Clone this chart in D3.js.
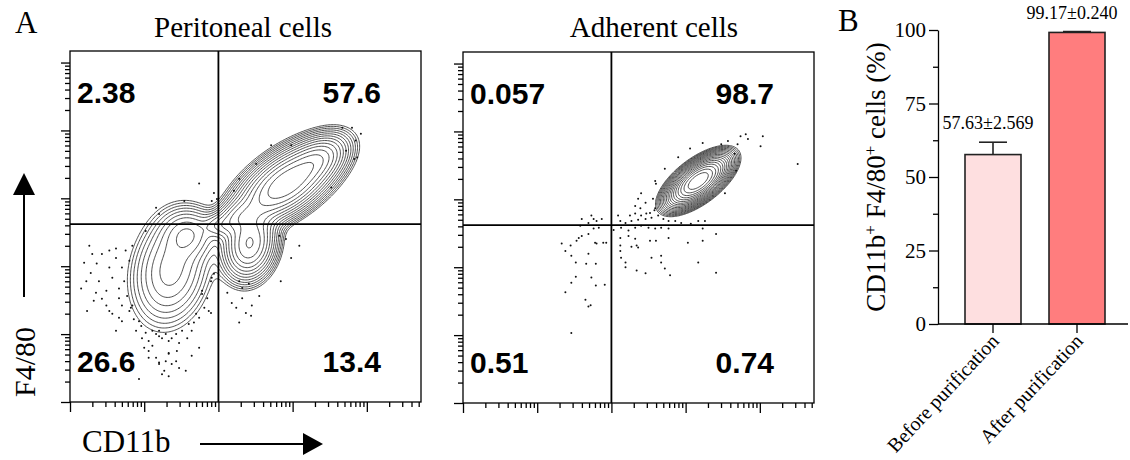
<!DOCTYPE html>
<html>
<head>
<meta charset="utf-8">
<script src="https://cdn.jsdelivr.net/npm/d3@7/dist/d3.min.js"></script>
<style>
  body { margin: 0; background: #fff; }
  svg text { font-family: "Liberation Serif", "Times New Roman", serif; fill: #000; }
  .quad { font-family: "Liberation Sans", Arial, sans-serif; font-weight: bold; }
</style>
</head>
<body>
<svg id="fig" width="1130" height="460"></svg>
<script>
// ---- flow cytometry panels (axes in decades) ----
const gateX = 2.0, gateY = 2.62;
const majorTicks = [0, 1, 2, 3, 4, 5];
// populations: [cx, cy, sdMajor, sdMinor, angleDeg, weight]
const periPops = [
  [2.92, 3.22, 0.39, 0.19, 39, 0.524],
  [3.35, 3.58, 0.22, 0.14, 39, 0.06],
  [2.42, 2.33, 0.26, 0.17, 80, 0.177],
  [2.25, 2.72, 0.18, 0.12, 35, 0.03],
  [1.60, 2.48, 0.20, 0.20, 0, 0.036],
  [1.36, 1.95, 0.44, 0.27, 80, 0.119],
  [2.00, 2.60, 0.12, 0.10, 0, 0.008]
];
const adhPops = [
  [3.17, 3.27, 0.25, 0.115, 41, 1.0]
];
const periDots = [
  [0.26,2.30],[0.19,2.05],[0.15,1.67],[0.23,1.34],[0.32,1.49],[0.43,2.18],[0.53,2.23],[0.62,2.12],
  [0.70,1.98],[0.57,1.83],[0.49,1.64],[0.39,1.78],[0.66,1.53],[0.57,1.30],[0.70,1.19],[0.80,1.34],
  [0.89,1.05],[0.97,0.94],[1.06,0.90],[1.16,1.00],[1.24,0.94],[1.33,0.90],[1.43,1.00],[1.51,1.05],
  [1.60,1.15],[1.70,1.30],[1.87,1.34],[1.91,1.83],[1.78,1.64],[1.06,0.75],[1.16,0.65],[1.29,0.60],
  [1.37,0.56],[1.47,0.50],[1.24,0.41],[0.93,0.34],[1.56,0.46],[1.00,0.80],[1.11,0.83],[0.84,2.30],
  [0.75,2.23],[0.80,2.08],[0.28,1.90],[0.35,1.61],[0.49,1.42],[0.77,1.56],[0.62,1.05],[1.74,0.80],
  [1.20,1.05],[0.93,1.19],[0.84,1.42],[1.44,0.75],[1.64,0.68],[1.33,0.72],[1.20,0.58],
  [1.02,1.02],[1.11,1.05],[1.20,0.97],[1.29,1.00],[1.37,0.94],[1.47,0.87],[1.58,0.94],[1.64,1.05],
  [1.67,1.17],[1.74,1.24],[1.81,1.39],[1.85,1.53],[0.96,1.12],[0.86,1.22],[0.82,1.39],[0.70,1.42],
  [0.66,1.67],[0.73,1.78],[0.53,1.98],[0.62,2.26],[0.36,2.04],[0.30,2.18],[0.22,1.78],[0.43,1.52],
  [0.53,1.34],[0.66,1.24],[1.06,0.65],[1.33,0.71],[1.43,0.60],[1.20,0.56],[1.27,0.46],[1.33,0.38],
  [2.82,2.45],[2.91,2.40],[3.09,2.30],[2.98,2.12],[2.84,1.78],[2.28,1.78],[2.32,1.68],[2.41,1.74],
  [2.18,1.46],[2.24,1.39],[2.45,1.42],[2.37,1.31],[2.44,1.27],[2.32,1.53],[1.90,1.31],[1.90,1.78],
  [1.94,1.89],[1.78,1.59],[2.28,1.17],[2.12,1.61],[2.55,1.56],
  [2.71,3.78],[2.98,3.78],[3.67,4.04],[3.80,4.04],[3.85,3.85],[3.83,3.58],[3.72,3.70],[3.52,3.16],
  [2.51,3.51],[2.28,3.29],[2.21,3.11],[1.94,3.08],[1.98,2.99],[1.91,2.96],[3.87,3.60],[3.92,3.95],
  [1.74,3.22],[1.16,2.86],[1.02,2.52],[1.20,2.77],[1.54,2.96]
];
const adhDots = [
  [4.51,3.52],[4.04,3.93],[4.01,3.78],[3.81,3.96],[3.74,3.93],[3.84,3.89],[3.70,3.81],[3.66,3.67],
  [3.57,3.86],[3.48,3.81],[3.68,3.42],[3.53,3.09],[3.23,3.83],[3.06,3.75],[2.90,3.62],[2.72,3.45],
  [2.59,3.27],[2.60,3.23],[2.40,3.09],[2.36,3.01],[2.46,2.95],[2.32,2.90],[2.39,2.87],[2.56,3.01],
  [2.59,2.87],[2.58,2.84],[2.52,2.80],[2.47,2.79],[2.40,2.76],[2.32,2.79],[2.25,2.76],[2.27,2.68],
  [2.36,2.70],[2.46,2.71],[2.54,2.73],[2.63,2.76],[2.70,2.71],[2.77,2.68],[2.86,2.68],[2.94,2.65],
  [3.07,2.64],[3.17,2.68],[3.26,2.68],[2.19,2.65],[2.12,2.68],[2.09,2.76],[2.40,2.61],[2.50,2.58],
  [2.59,2.57],[2.67,2.58],[2.77,2.57],[2.32,2.58],[2.23,2.54],[2.13,2.58],[2.03,2.55],[1.87,2.71],
  [1.80,2.68],[1.73,2.76],[1.69,2.65],[1.83,2.58],[1.76,2.57],[1.58,2.61],[1.56,2.43],[1.53,2.39],
  [1.60,2.46],[1.69,2.49],[1.78,2.36],[1.80,2.35],[1.89,2.36],[1.93,2.36],[2.12,2.43],[2.23,2.46],
  [2.32,2.42],[2.34,2.32],[2.27,2.30],[2.36,2.29],[2.52,2.39],[2.60,2.39],[2.77,2.43],[3.03,2.36],
  [3.23,2.57],[3.23,2.39],[3.41,2.49],[2.12,2.32],[2.12,2.24],[2.13,2.14],[2.19,2.07],[2.19,2.00],
  [2.34,1.95],[2.46,1.91],[2.54,2.14],[2.67,2.17],[2.67,2.07],[2.72,1.98],[2.79,1.88],[3.17,2.07],
  [3.41,1.92],[1.33,2.35],[1.38,2.24],[1.45,2.32],[1.46,2.17],[1.52,2.07],[1.46,1.77],[1.38,1.63],
  [1.52,1.86],[1.66,2.05],[1.69,2.20],[1.79,2.05],[1.73,1.85],[1.79,1.73],[1.91,1.74],[1.65,1.52],
  [1.69,1.42],[1.72,1.44],[1.46,1.03],[1.60,2.71],[1.76,2.71]
];
// quadrant percentages: upper-left, upper-right, lower-left, lower-right
const periQuad = ["2.38", "57.6", "26.6", "13.4"];
const adhQuad = ["0.057", "98.7", "0.51", "0.74"];

// ---- bar chart ----
const groups = ["Before purification", "After purification"];
const means = [57.63, 99.17];
const errs = [4.2, 0.3];
const meanLabels = ["57.63±2.569", "99.17±0.240"];
const barColors = ["#fedfe0", "#ff7d7e"];
const yTicksB = [0, 25, 50, 75, 100];
const yMinorB = [12.5, 37.5, 62.5, 87.5];

const svg = d3.select("#fig");

function flowPanel(o) {
  const g = svg.append("g");
  const x = d3.scaleLinear().domain([0, 4.73]).range([o.x0, o.x0 + 351]);
  const y = d3.scaleLinear().domain([0, 5.17]).range([o.y0 + 351, o.y0]);

  g.append("clipPath").attr("id", o.id + "clip")
    .append("rect").attr("x", o.x0).attr("y", o.y0).attr("width", 351).attr("height", 351);

  // density grid from the populations
  const step = 0.02, nx = Math.ceil(4.73 / step), ny = Math.ceil(5.17 / step);
  const vals = new Float64Array(nx * ny);
  for (let j = 0; j < ny; j++) {
    for (let i = 0; i < nx; i++) {
      const u = (i + 0.5) * step, v = (j + 0.5) * step;
      let s = 0;
      o.pops.forEach(p => {
        const a = p[4] * Math.PI / 180;
        const dx = u - p[0], dy = v - p[1];
        const pp = dx * Math.cos(a) + dy * Math.sin(a);
        const qq = -dx * Math.sin(a) + dy * Math.cos(a);
        s += p[5] / (p[2] * p[3]) * Math.exp(-0.5 * (pp * pp / (p[2] * p[2]) + qq * qq / (p[3] * p[3])));
      });
      vals[j * nx + i] = s;
    }
  }
  const mx = d3.max(vals);
  const levels = d3.range(1, o.nLevels + 1).map(k => mx * Math.pow(o.ratio, k));
  const contours = d3.contours().size([nx, ny]).thresholds(levels)(vals);
  const proj = d3.geoTransform({
    point: function(px, py) { this.stream.point(x(px * step), y(py * step)); }
  });
  const cg = g.append("g").attr("clip-path", "url(#" + o.id + "clip)");
  cg.selectAll("path.c").data(contours).join("path")
    .attr("class", "c")
    .attr("d", d3.geoPath(proj))
    .attr("fill", "none")
    .attr("stroke", "#222")
    .attr("stroke-width", 0.8);

  cg.selectAll("circle").data(o.dots).join("circle")
    .attr("cx", d => x(d[0]))
    .attr("cy", d => y(d[1]))
    .attr("r", 1)
    .attr("fill", "#111");

  // frame + gates
  g.append("rect").attr("x", o.x0).attr("y", o.y0).attr("width", 351).attr("height", 351)
    .attr("fill", "none").attr("stroke", "#000").attr("stroke-width", 1.3);
  g.append("line").attr("x1", x(gateX)).attr("x2", x(gateX)).attr("y1", o.y0).attr("y2", o.y0 + 351)
    .attr("stroke", "#000").attr("stroke-width", 1.8);
  g.append("line").attr("x1", o.x0).attr("x2", o.x0 + 351).attr("y1", y(gateY)).attr("y2", y(gateY))
    .attr("stroke", "#000").attr("stroke-width", 1.8);

  // log-style ticks
  const minor = [];
  majorTicks.forEach(d => d3.range(2, 10).forEach(k => minor.push(d + Math.log10(k))));
  const yAxG = g.append("g").attr("transform", "translate(" + o.x0 + ",0)");
  yAxG.call(d3.axisLeft(y).tickValues(majorTicks.filter(d => d <= 5.17)).tickSize(9).tickFormat(""));
  yAxG.append("g").call(d3.axisLeft(y).tickValues(minor.filter(d => d < 5.17)).tickSize(5).tickFormat(""));
  const xAxG = g.append("g").attr("transform", "translate(0," + (o.y0 + 351) + ")");
  xAxG.call(d3.axisBottom(x).tickValues(majorTicks.filter(d => d <= 4.73)).tickSize(10).tickFormat(""));
  xAxG.append("g").call(d3.axisBottom(x).tickValues(minor.filter(d => d < 4.73)).tickSize(5).tickFormat(""));
  g.selectAll(".domain").remove();
  g.selectAll(".tick line").attr("stroke", "#000").attr("stroke-width", 1.3);

  // quadrant numbers
  const q = g.append("g").attr("class", "quad").attr("font-size", 30);
  q.append("text").attr("class", "quad").attr("x", o.x0 + 7).attr("y", o.y0 + 52).text(o.quads[0]);
  q.append("text").attr("class", "quad").attr("x", o.x0 + 311).attr("y", o.y0 + 52)
    .attr("text-anchor", "end").text(o.quads[1]);
  q.append("text").attr("class", "quad").attr("x", o.x0 + 7).attr("y", o.y0 + 321).text(o.quads[2]);
  q.append("text").attr("class", "quad").attr("x", o.x0 + 311).attr("y", o.y0 + 321)
    .attr("text-anchor", "end").text(o.quads[3]);

  svg.append("text").attr("x", o.titleX).attr("y", 37).attr("text-anchor", "middle")
    .attr("font-size", 29).text(o.title);
}

flowPanel({ id: "p1", x0: 70, y0: 51, pops: periPops, dots: periDots, quads: periQuad,
  nLevels: 14, ratio: 0.74, title: "Peritoneal cells", titleX: 243 });
flowPanel({ id: "p2", x0: 463, y0: 52, pops: adhPops, dots: adhDots, quads: adhQuad,
  nLevels: 18, ratio: 0.8, title: "Adherent cells", titleX: 654 });

// axis names with arrows
svg.append("text").attr("x", 15).attr("y", 33).attr("font-size", 31).text("A");
svg.append("text").attr("transform", "translate(35,362) rotate(-90)")
  .attr("text-anchor", "middle").attr("font-size", 30).text("F4/80");
svg.append("line").attr("x1", 24).attr("x2", 24).attr("y1", 297).attr("y2", 190)
  .attr("stroke", "#000").attr("stroke-width", 2);
svg.append("path").attr("d", "M24,173L35,195L13,195Z").attr("fill", "#000");
svg.append("text").attr("x", 82).attr("y", 452).attr("font-size", 31).text("CD11b");
svg.append("line").attr("x1", 200).attr("x2", 306).attr("y1", 444).attr("y2", 444)
  .attr("stroke", "#000").attr("stroke-width", 2);
svg.append("path").attr("d", "M323,444L303,433L303,455Z").attr("fill", "#000");

// ---- panel B ----
const yB = d3.scaleLinear().domain([0, 100]).range([324, 30]);
const xB = d3.scaleBand().domain(groups).range([951, 1119]).paddingInner(1 / 3).paddingOuter(1 / 6);
const gB = svg.append("g");

gB.selectAll("rect.bar").data(groups).join("rect")
  .attr("class", "bar")
  .attr("x", d => xB(d))
  .attr("y", (d, i) => yB(means[i]))
  .attr("width", xB.bandwidth())
  .attr("height", (d, i) => yB(0) - yB(means[i]))
  .attr("fill", (d, i) => barColors[i])
  .attr("stroke", "#222")
  .attr("stroke-width", 1.6);

groups.forEach((d, i) => {
  const cx = xB(d) + xB.bandwidth() / 2;
  gB.append("line").attr("x1", cx).attr("x2", cx)
    .attr("y1", yB(means[i])).attr("y2", yB(means[i] + errs[i]))
    .attr("stroke", "#222").attr("stroke-width", 1.6);
  gB.append("line").attr("x1", cx - 14).attr("x2", cx + 14)
    .attr("y1", yB(means[i] + errs[i])).attr("y2", yB(means[i] + errs[i]))
    .attr("stroke", "#222").attr("stroke-width", 1.6);
  gB.append("text").attr("x", cx - 5).attr("y", yB(means[i] + errs[i]) - 13)
    .attr("text-anchor", "middle").attr("font-size", 18).text(meanLabels[i]);
});

const yAxB = gB.append("g").attr("transform", "translate(938,0)");
yAxB.call(d3.axisLeft(yB).tickValues(yTicksB).tickSize(9).tickSizeOuter(0).tickPadding(3));
yAxB.append("g").call(d3.axisLeft(yB).tickValues(yMinorB).tickSize(5).tickFormat(""))
  .select(".domain").remove();
yAxB.selectAll("text").attr("font-size", 21).attr("font-family", "Liberation Serif");
yAxB.selectAll("path, line").attr("stroke", "#000").attr("stroke-width", 1.3);

const xAxB = gB.append("g").attr("transform", "translate(0,324)");
xAxB.call(d3.axisBottom(xB).tickSize(9).tickSizeOuter(0).tickFormat(""));
xAxB.select(".domain").remove();
xAxB.selectAll("line").attr("stroke", "#000").attr("stroke-width", 1.3);
gB.append("line").attr("x1", 938).attr("x2", 1128).attr("y1", 324).attr("y2", 324)
  .attr("stroke", "#000").attr("stroke-width", 1.3);

groups.forEach(d => {
  const cx = xB(d) + xB.bandwidth() / 2;
  gB.append("text")
    .attr("transform", "translate(" + (cx + 7) + ",342) rotate(-47)")
    .attr("text-anchor", "end").attr("font-size", 20).text(d);
});

const yt = gB.append("text").attr("transform", "translate(885,177) rotate(-90)")
  .attr("text-anchor", "middle").attr("font-size", 27);
yt.append("tspan").text("CD11b");
yt.append("tspan").attr("baseline-shift", "super").attr("font-size", 17).text("+");
yt.append("tspan").text(" F4/80");
yt.append("tspan").attr("baseline-shift", "super").attr("font-size", 17).text("+");
yt.append("tspan").text(" cells (%)");

svg.append("text").attr("x", 838).attr("y", 31).attr("font-size", 31).text("B");
</script>
</body>
</html>
